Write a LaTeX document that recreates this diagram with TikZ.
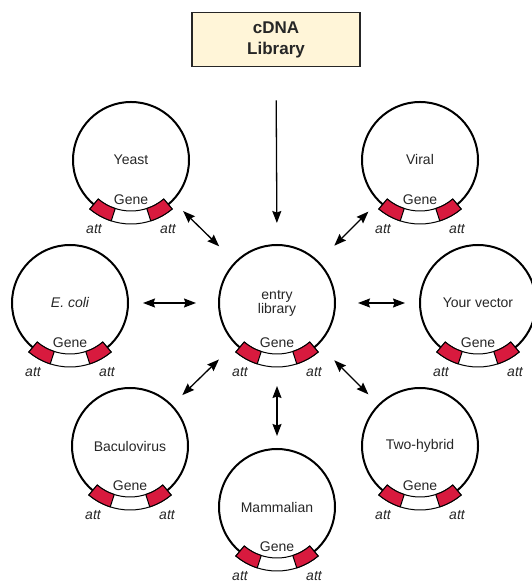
\documentclass[tikz,border=0pt]{standalone}
\usepackage{fontspec}
\setmainfont{Liberation Sans}
\usetikzlibrary{arrows.meta}
\definecolor{attred}{HTML}{D81A3E}
\definecolor{cream}{HTML}{FFF5D8}
\begin{document}
\begin{tikzpicture}[
  x = 1pt, y = 1pt,
  plasmid/.style = {
    shape = circle,
    draw = black,
    line width = 2pt,
    minimum size = 116pt,
    inner sep = 0pt,
    align = center,
    font = \fontsize{14}{14}\selectfont,
    text = black!85,
  },
  library/.style = {
    shape = rectangle,
    draw = black!85,
    line width = 1.6pt,
    fill = cream,
    minimum width = 168pt,
    minimum height = 54pt,
    align = center,
    font = \fontsize{17}{21}\selectfont\bfseries,
    text = black!85,
  },
  band/.style = {
    draw = black,
    line width = 1pt,
    fill = white,
  },
  attbox/.style = {
    draw = black,
    line width = 1pt,
    fill = attred,
  },
  gene/.style = {
    font = \fontsize{14}{14}\selectfont,
    text = black!85,
    inner sep = 0pt,
  },
  site/.style = {
    font = \fontsize{14}{14}\selectfont\itshape,
    text = black!85,
    inner sep = 0pt,
  },
  link/.style = {
    line width = 1.3pt,
    {Stealth[length=12pt, width=9pt, inset=1.5pt]}-{Stealth[length=12pt, width=9pt, inset=1.5pt]},
    shorten < = 22pt,
    shorten > = 14pt,
  }
]
  \useasboundingbox (0, 0) rectangle (531, 583);

  \node[library] (cdna) at (276, 543.5) {cDNA\\Library};

  \node[plasmid] (entry) at (277, 280) {entry\\library};
  \node[plasmid] (yeast) at (131, 423) {Yeast};
  \node[plasmid] (viral) at (420, 423) {Viral};
  \node[plasmid] (ecoli) at (70, 280) {\itshape E. coli};
  \node[plasmid] (vector) at (478, 280) {Your vector};
  \node[plasmid] (baculo) at (130, 137) {Baculovirus};
  \node[plasmid] (twohyb) at (420, 137) {Two-hybrid};
  \node[plasmid] (mammal) at (277, 76) {Mammalian};

  % gene cassette with att sites on every plasmid
  \foreach \p in {entry, yeast, viral, ecoli, vector, baculo, twohyb, mammal} {
    \begin{scope}[shift = {(\p.center)}]
      \draw[band] (-130:51) arc[start angle = -130, end angle = -50, radius = 51]
        -- (-50:64) arc[start angle = -50, end angle = -130, radius = 64] -- cycle;
      \draw[attbox] (-130:51) arc[start angle = -130, end angle = -108, radius = 51]
        -- (-108:64) arc[start angle = -108, end angle = -130, radius = 64] -- cycle;
      \draw[attbox] (-72:51) arc[start angle = -72, end angle = -50, radius = 51]
        -- (-50:64) arc[start angle = -50, end angle = -72, radius = 64] -- cycle;
      \node[gene] (\p-gene) at (0, -40) {Gene};
      \node[site] (\p-attl) at (-37, -69) {att};
      \node[site] (\p-attr) at (37, -69) {att};
    \end{scope}
  }

  \draw[line width = 1.3pt, -{Stealth[length=12pt, width=9pt, inset=1.5pt]},
    shorten < = 33pt, shorten > = 21pt] (cdna.south) -- (entry.north);

  \draw[link] (entry) -- (yeast);
  \draw[link] (entry) -- (viral);
  \draw[link] (entry) -- (ecoli);
  \draw[link] (entry) -- (vector);
  \draw[link] (entry) -- (baculo);
  \draw[link] (entry) -- (twohyb);
  \draw[link, shorten < = 24pt, shorten > = 12pt] (entry) -- (mammal);
\end{tikzpicture}
\end{document}
